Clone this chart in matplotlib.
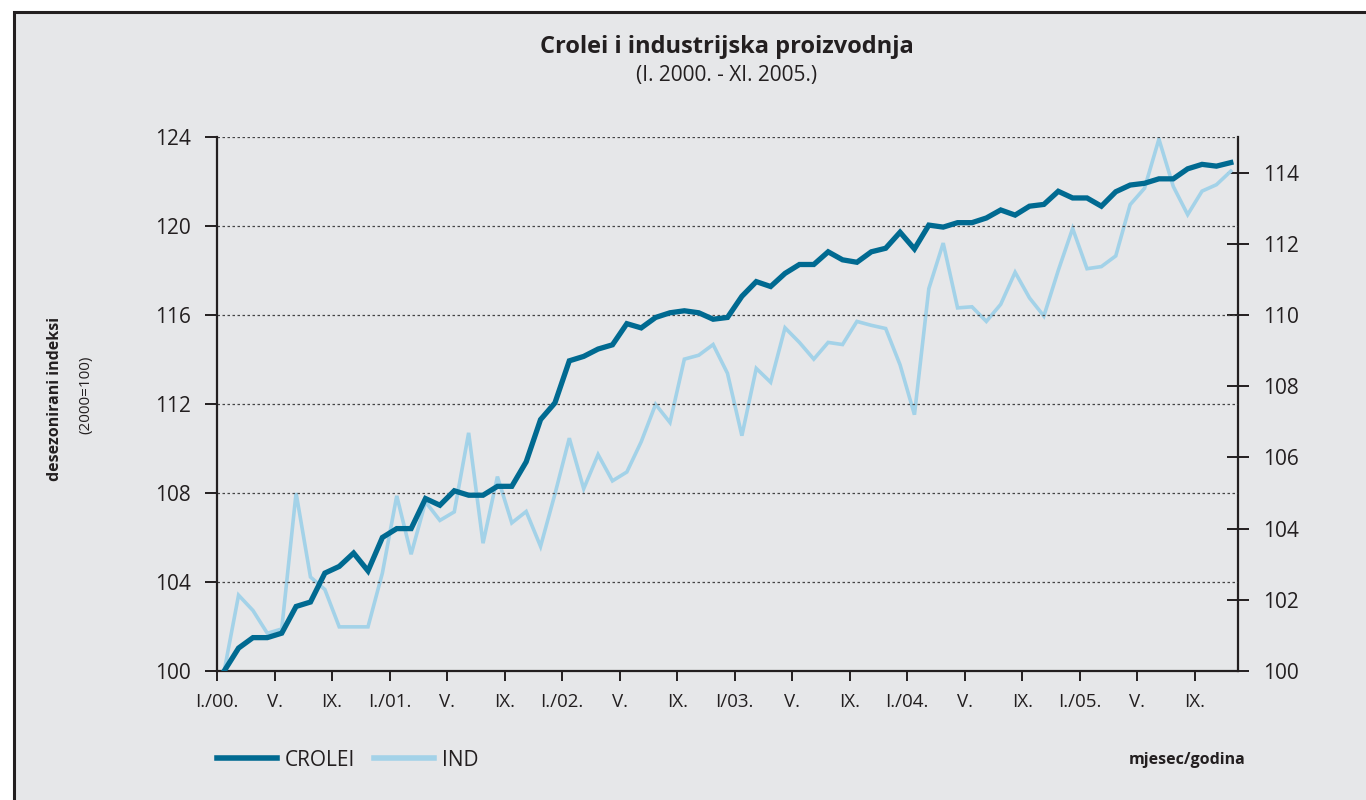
import matplotlib
matplotlib.use("Agg")
import matplotlib.pyplot as plt
from matplotlib import font_manager
from matplotlib.lines import Line2D
import numpy as np

# ---- data ----
months = list(range(71))  # I.2000 .. XI.2005
crolei = [100.0, 101.03, 101.5, 101.5, 101.7, 102.9, 103.1, 104.4, 104.7, 105.3,
          104.5, 106.0, 106.4, 106.4, 107.75, 107.45, 108.1, 107.9, 107.9, 108.3,
          108.3, 109.4, 111.3, 112.05, 113.94, 114.14, 114.47, 114.66, 115.61, 115.42,
          115.89, 116.1, 116.19, 116.1, 115.81, 115.89, 116.84, 117.5, 117.28, 117.87,
          118.27, 118.27, 118.84, 118.48, 118.37, 118.84, 119.0, 119.72, 118.97, 120.04,
          119.95, 120.15, 120.15, 120.36, 120.72, 120.49, 120.89, 120.97, 121.56, 121.26,
          121.26, 120.89, 121.54, 121.84, 121.92, 122.12, 122.12, 122.57, 122.77, 122.69,
          122.85]
ind = [100.0, 102.13, 101.7, 101.06, 101.18, 105.0, 102.64, 102.29, 101.24, 101.24,
       101.24, 102.75, 104.92, 103.28, 104.75, 104.23, 104.47, 106.69, 103.59, 105.46,
       104.16, 104.48, 103.5, 104.97, 106.54, 105.12, 106.08, 105.34, 105.59, 106.44,
       107.49, 106.98, 108.76, 108.87, 109.17, 108.36, 106.61, 108.5, 108.11, 109.64,
       109.23, 108.76, 109.23, 109.17, 109.82, 109.71, 109.62, 108.6, 107.2, 110.74,
       112.02, 110.2, 110.23, 109.82, 110.3, 111.2, 110.48, 109.97, 111.25, 112.43,
       111.3, 111.36, 111.66, 113.1, 113.56, 114.94, 113.61, 112.82, 113.48, 113.66,
       114.04]
xtick_labels = ["I./00.", "V.", "IX.", "I./01.", "V.", "IX.", "I./02.", "V.", "IX.",
                "I/03.", "V.", "IX.", "I./04.", "V.", "IX.", "I./05.", "V.", "IX."]
left_ticks = [100, 104, 108, 112, 116, 120, 124]
right_ticks = [100, 102, 104, 106, 108, 110, 112, 114]

title = "Crolei i industrijska proizvodnja"
subtitle = "(I. 2000. - XI. 2005.)"
ylabel = "desezonirani indeksi"
ylabel2 = "(2000=100)"
xlabel = "mjesec/godina"

DARK = "#006a91"
LIGHT = "#a3d2e8"
BG = "#e6e7e9"
TXT = "#231f20"

# ---- font choice ----
names = {f.name for f in font_manager.fontManager.ttflist}
FAM = "Liberation Sans Narrow" if "Liberation Sans Narrow" in names else "Open Sans"
plt.rcParams["font.family"] = [FAM, "DejaVu Sans"]

fig = plt.figure(figsize=(13.66, 8.0), dpi=100)
fig.patch.set_facecolor("white")
# background panel with border
fig.patches.append(plt.Rectangle((14 / 1366, -0.01), 1 - 14 / 1366 + 0.01, 1 - 12 / 800 + 0.01,
                                 transform=fig.transFigure, facecolor=BG,
                                 edgecolor="#231f20", linewidth=2.2, zorder=-10))

ax = fig.add_axes([217 / 1366, 1 - 671 / 800, (1238 - 217) / 1366, (671 - 137) / 800])
ax2 = ax.twinx()
ax.set_facecolor("none")
ax2.set_facecolor("none")

x = np.array(months)
ax2.plot(x, ind, color=LIGHT, lw=2.6, solid_joinstyle="miter", zorder=3)
ax.plot(x, crolei, color=DARK, lw=3.8, solid_joinstyle="miter", zorder=4)
ax2.set_zorder(1)
ax.set_zorder(2)

ax.set_xlim(-0.5, 70.5)
ax.set_ylim(100, 124)
ax2.set_ylim(100, 115)
ax.set_yticks(left_ticks)
ax2.set_yticks(right_ticks)
tick_pos = [i * 4 - 0.5 for i in range(len(xtick_labels))]
ax.set_xticks(tick_pos)
ax.set_xticklabels(xtick_labels)

for a in (ax, ax2):
    a.spines["top"].set_visible(False)
    for s in ("left", "right", "bottom"):
        a.spines[s].set_linewidth(1.6)
        a.spines[s].set_color(TXT)
ax.spines["right"].set_visible(False)
ax2.spines["left"].set_visible(False)
ax2.spines["bottom"].set_visible(False)

ax.grid(axis="y", linestyle=(0, (2, 2)), color="#444444", linewidth=0.9)
ax.tick_params(axis="y", direction="out", length=9, width=1.4, color=TXT,
               labelsize=15, labelcolor=TXT, pad=10)
ax.tick_params(axis="x", direction="out", length=7, width=1.4, color=TXT,
               labelsize=13.5, labelcolor=TXT, pad=9)
ax2.tick_params(axis="y", direction="inout", length=16, width=1.4, color=TXT,
                labelsize=15, labelcolor=TXT, pad=10)

# titles
fig.text(727 / 1366, 1 - 47 / 800, title, ha="center", va="center",
         fontsize=17, fontweight="bold", color=TXT)
fig.text(727 / 1366, 1 - 75 / 800, subtitle, ha="center", va="center",
         fontsize=15, color=TXT)
fig.text(55 / 1366, 1 - 399 / 800, ylabel, rotation=90, ha="center", va="center",
         fontsize=11.5, fontweight="bold", color=TXT)
fig.text(86 / 1366, 1 - 395 / 800, ylabel2, rotation=90, ha="center", va="center",
         fontsize=11, color=TXT)
fig.text(1245 / 1366, 1 - 760 / 800, xlabel, ha="right", va="center",
         fontsize=11.5, fontweight="bold", color=TXT)

handles = [Line2D([], [], color=DARK, lw=4.0), Line2D([], [], color=LIGHT, lw=4.0)]
fig.legend(handles, ["CROLEI", "IND"], loc="center left",
           bbox_to_anchor=(217 / 1366, 1 - 760 / 800), ncol=2, frameon=False,
           fontsize=15, handlelength=2.9, handletextpad=0.35, columnspacing=0.9,
           borderpad=0, borderaxespad=0, labelcolor=TXT)

fig.savefig("out.png", dpi=100, facecolor=fig.get_facecolor())
